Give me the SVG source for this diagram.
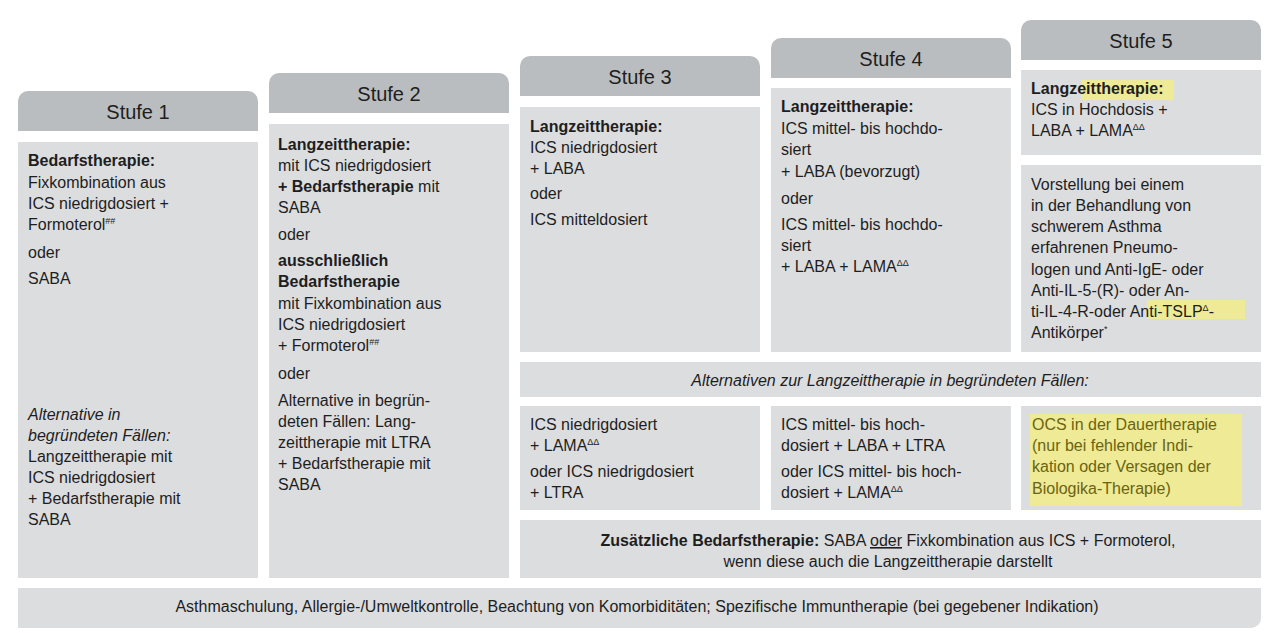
<svg xmlns="http://www.w3.org/2000/svg" width="1280" height="633" viewBox="0 0 1280 633">
<style>
text{font-family:"Liberation Sans",Arial,sans-serif;font-size:16px;fill:#1e1e1e}
.h{font-size:20px;text-anchor:middle}
.b{font-weight:bold}
.i{font-style:italic}
.c{text-anchor:middle}
.hd{fill:#babdbf}
.bd{fill:#dcdddf}
.hl{fill:#eeea96}
.sup{font-size:9px}
</style>
<rect width="1280" height="633" fill="#fff"/>
<g id="stufe1">
<path class="hd" d="M18 131V101a10 10 0 0 1 10-10H248a10 10 0 0 1 10 10V131Z"/>
<text class="h" x="138" y="119">Stufe 1</text>
<rect class="bd" x="18" y="142" width="240" height="436"/>
<text x="28" y="166"><tspan class="b">Bedarfstherapie:</tspan><tspan x="28" y="188">Fixkombination aus</tspan><tspan x="28" y="209">ICS niedrigdosiert +</tspan><tspan x="28" y="230">Formoterol<tspan class="sup" dy="-6">##</tspan></tspan><tspan x="28" y="258">oder</tspan><tspan x="28" y="284">SABA</tspan></text>
<text x="28" y="420"><tspan class="i">Alternative in</tspan><tspan class="i" x="28" y="441">begründeten Fällen:</tspan><tspan x="28" y="462">Langzeittherapie mit</tspan><tspan x="28" y="483">ICS niedrigdosiert</tspan><tspan x="28" y="504">+ Bedarfstherapie mit</tspan><tspan x="28" y="525">SABA</tspan></text>
</g>
<g id="stufe2">
<path class="hd" d="M269 113V83a10 10 0 0 1 10-10H499a10 10 0 0 1 10 10V113Z"/>
<text class="h" x="389" y="101">Stufe 2</text>
<rect class="bd" x="269" y="124" width="240" height="454"/>
<text x="278" y="150"><tspan class="b">Langzeittherapie:</tspan><tspan x="278" y="171">mit ICS niedrigdosiert</tspan><tspan x="278" y="192"><tspan class="b">+ Bedarfstherapie</tspan> mit</tspan><tspan x="278" y="213">SABA</tspan><tspan x="278" y="240">oder</tspan><tspan x="278" y="266" class="b">ausschließlich</tspan><tspan x="278" y="287" class="b">Bedarfstherapie</tspan><tspan x="278" y="309">mit Fixkombination aus</tspan><tspan x="278" y="330">ICS niedrigdosiert</tspan><tspan x="278" y="351">+ Formoterol<tspan class="sup" dy="-6">##</tspan></tspan><tspan x="278" y="379">oder</tspan><tspan x="278" y="406">Alternative in begrün-</tspan><tspan x="278" y="427">deten Fällen: Lang-</tspan><tspan x="278" y="448">zeittherapie mit LTRA</tspan><tspan x="278" y="469">+ Bedarfstherapie mit</tspan><tspan x="278" y="490">SABA</tspan></text>
</g>
<g id="stufe3">
<path class="hd" d="M520 96V66a10 10 0 0 1 10-10H750a10 10 0 0 1 10 10V96Z"/>
<text class="h" x="640" y="84">Stufe 3</text>
<rect class="bd" x="520" y="107" width="240" height="245"/>
<text x="530" y="132"><tspan class="b">Langzeittherapie:</tspan><tspan x="530" y="153">ICS niedrigdosiert</tspan><tspan x="530" y="174">+ LABA</tspan><tspan x="530" y="199">oder</tspan><tspan x="530" y="225">ICS mitteldosiert</tspan></text>
</g>
<g id="stufe4">
<path class="hd" d="M771 78V48a10 10 0 0 1 10-10H1001a10 10 0 0 1 10 10V78Z"/>
<text class="h" x="891" y="66">Stufe 4</text>
<rect class="bd" x="771" y="88" width="240" height="264"/>
<text x="781" y="112"><tspan class="b">Langzeittherapie:</tspan><tspan x="781" y="134">ICS mittel- bis hochdo-</tspan><tspan x="781" y="155">siert</tspan><tspan x="781" y="177">+ LABA (bevorzugt)</tspan><tspan x="781" y="204">oder</tspan><tspan x="781" y="230">ICS mittel- bis hochdo-</tspan><tspan x="781" y="251">siert</tspan><tspan x="781" y="272">+ LABA + LAMA<tspan class="sup" dy="-6">ΔΔ</tspan></tspan></text>
</g>
<g id="stufe5">
<path class="hd" d="M1021 60V30a10 10 0 0 1 10-10H1251a10 10 0 0 1 10 10V60Z"/>
<text class="h" x="1141" y="48">Stufe 5</text>
<rect class="bd" x="1021" y="70" width="240" height="85"/>
<rect class="hl" x="1081" y="80" width="93" height="20"/>
<text x="1031" y="94"><tspan class="b">Langzeittherapie:</tspan><tspan x="1031" y="115">ICS in Hochdosis +</tspan><tspan x="1031" y="136">LABA + LAMA<tspan class="sup" dy="-6">ΔΔ</tspan></tspan></text>
<rect class="bd" x="1021" y="165" width="240" height="187"/>
<rect class="hl" x="1147" y="300" width="98" height="19"/>
<text x="1031" y="190"><tspan>Vorstellung bei einem</tspan><tspan x="1031" y="211">in der Behandlung von</tspan><tspan x="1031" y="232">schwerem Asthma</tspan><tspan x="1031" y="253">erfahrenen Pneumo-</tspan><tspan x="1031" y="275">logen und Anti-IgE- oder</tspan><tspan x="1031" y="296">Anti-IL-5-(R)- oder An-</tspan><tspan x="1031" y="317">ti-IL-4-R-oder Anti-TSLP<tspan class="sup" dy="-6">Δ</tspan><tspan dy="6">-</tspan></tspan><tspan x="1031" y="338">Antikörper<tspan class="sup" dy="-6">*</tspan></tspan></text>
</g>
<g id="alternativen">
<rect class="bd" x="520" y="362" width="741" height="35"/>
<text class="i c" x="890" y="386">Alternativen zur Langzeittherapie in begründeten Fällen:</text>
</g>
<g id="alt3">
<rect class="bd" x="520" y="406" width="240" height="104"/>
<text x="530" y="430"><tspan>ICS niedrigdosiert</tspan><tspan x="530" y="451">+ LAMA<tspan class="sup" dy="-6">ΔΔ</tspan></tspan><tspan x="530" y="477">oder ICS niedrigdosiert</tspan><tspan x="530" y="498">+ LTRA</tspan></text>
</g>
<g id="alt4">
<rect class="bd" x="771" y="406" width="240" height="104"/>
<text x="781" y="430"><tspan>ICS mittel- bis hoch-</tspan><tspan x="781" y="451">dosiert + LABA + LTRA</tspan><tspan x="781" y="477">oder ICS mittel- bis hoch-</tspan><tspan x="781" y="498">dosiert + LAMA<tspan class="sup" dy="-6">ΔΔ</tspan></tspan></text>
</g>
<g id="alt5">
<rect class="bd" x="1021" y="406" width="240" height="104"/>
<rect class="hl" x="1030" y="414" width="212" height="92"/>
<text x="1032" y="430" style="fill:#6b6410"><tspan>OCS in der Dauertherapie</tspan><tspan x="1032" y="451">(nur bei fehlender Indi-</tspan><tspan x="1032" y="472">kation oder Versagen der</tspan><tspan x="1032" y="494">Biologika-Therapie)</tspan></text>
</g>
<g id="zusaetzlich">
<rect class="bd" x="520" y="520" width="741" height="58"/>
<text class="c" x="888" y="546"><tspan class="b">Zusätzliche Bedarfstherapie:</tspan> SABA <tspan text-decoration="underline">oder</tspan> Fixkombination aus ICS + Formoterol,</text>
<text class="c" x="888" y="567">wenn diese auch die Langzeittherapie darstellt</text>
</g>
<g id="basis">
<path class="bd" d="M18 588H1261V618a10 10 0 0 1-10 10H18Z"/>
<text class="c" x="637" y="612">Asthmaschulung, Allergie-/Umweltkontrolle, Beachtung von Komorbiditäten; Spezifische Immuntherapie (bei gegebener Indikation)</text>
</g>
<g id="connectors"/>
</svg>
